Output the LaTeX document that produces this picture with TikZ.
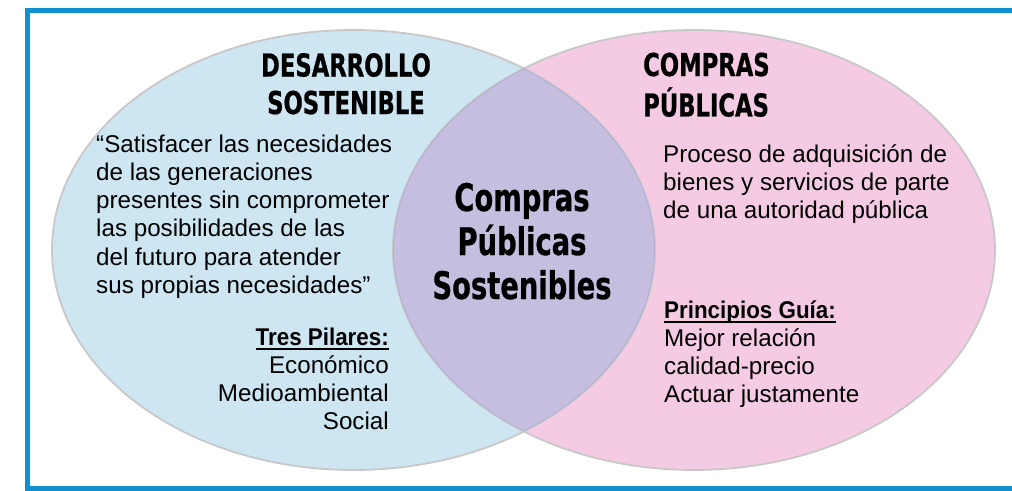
\documentclass[tikz,border=0pt]{standalone}
\usepackage{fontspec}
\setmainfont{Liberation Sans}
\newfontfamily\headfont[FakeStretch=0.72,FakeBold=0.7]{DejaVu Sans}
\definecolor{framecol}{RGB}{16,144,207}
\definecolor{bluefill}{RGB}{206,229,242}
\definecolor{pinkfill}{RGB}{245,203,228}
\definecolor{lensfill}{RGB}{197,190,223}
\definecolor{edgecol}{RGB}{200,200,200}
\definecolor{lensedge}{RGB}{178,176,214}
\newcommand\ulbox[1]{\setbox0\hbox{\scalebox{0.925}[1]{\bfseries #1}}\rlap{\rule[-4.5pt]{\wd0}{1.6pt}}\box0}
\tikzset{
  bodytxt/.style={inner sep=0pt, font=\fontsize{24.2}{28.3}\selectfont},
  headtxt/.style={inner sep=0pt, font=\fontsize{31.5}{37.5}\selectfont\headfont\bfseries},
  centertxt/.style={inner sep=0pt, font=\fontsize{38}{44}\selectfont\headfont\bfseries},
  outline/.style={draw=edgecol, line width=1.8pt},
  inline/.style={draw=lensedge, line width=1.8pt}
}
\begin{document}
\begin{tikzpicture}[x=1pt,y=-1pt]
\useasboundingbox (0,0) rectangle (1012,490);
% frame
\draw[framecol, line width=4.5pt] (1012,10.5) -- (27.5,10.5) -- (27.5,488.5) -- (1012,488.5);
% ellipses
\fill[bluefill] (353.5,250) ellipse [x radius=301.5pt, y radius=220pt];
\fill[pinkfill] (694,250) ellipse [x radius=301pt, y radius=220pt];
\begin{scope}
  \clip (353.5,250) ellipse [x radius=301.5pt, y radius=220pt];
  \fill[lensfill] (694,250) ellipse [x radius=301pt, y radius=220pt];
\end{scope}
\draw[outline] (353.5,250) ellipse [x radius=301.5pt, y radius=220pt];
\draw[outline] (694,250) ellipse [x radius=301pt, y radius=220pt];
\begin{scope}
  \clip (353.5,250) ellipse [x radius=301.5pt, y radius=220pt];
  \clip (694,250) ellipse [x radius=301pt, y radius=220pt];
  \draw[inline] (353.5,250) ellipse [x radius=301.5pt, y radius=220pt];
  \draw[inline] (694,250) ellipse [x radius=301pt, y radius=220pt];
\end{scope}
% headings
\node[headtxt, anchor=base] (hdes) at (346,76.5)
  {\begin{tabular}[t]{@{}c@{}}DESARROLLO\\SOSTENIBLE\end{tabular}};
\node[headtxt, anchor=base west] (hcomp) at (643,76)
  {\begin{tabular}[t]{@{}l@{}}COMPRAS\\PÚBLICAS\end{tabular}};
% center
\node[centertxt, anchor=base] (center) at (522,211)
  {\begin{tabular}[t]{@{}c@{}}Compras\\Públicas\\Sostenibles\end{tabular}};
% left quote
\node[bodytxt, anchor=base west] (quote) at (96,152)
  {\begin{tabular}[t]{@{}l@{}}“Satisfacer las necesidades\\de las generaciones\\presentes sin comprometer\\las posibilidades de las\\del futuro para atender\\sus propias necesidades”\end{tabular}};
% pillars
\node[bodytxt, anchor=base east] (pilares) at (389,345)
  {\begin{tabular}[t]{@{}r@{}}\ulbox{Tres Pilares:}\\Económico\\Medioambiental\\Social\end{tabular}};
% right definition
\node[bodytxt, anchor=base west] (defin) at (663,162)
  {\begin{tabular}[t]{@{}l@{}}Proceso de adquisición de\\bienes y servicios de parte\\de una autoridad pública\end{tabular}};
% principles
\node[bodytxt, anchor=base west] (princ) at (664,318)
  {\begin{tabular}[t]{@{}l@{}}\ulbox{Principios Guía:}\\Mejor relación\\calidad-precio\\Actuar justamente\end{tabular}};
\end{tikzpicture}
\end{document}
